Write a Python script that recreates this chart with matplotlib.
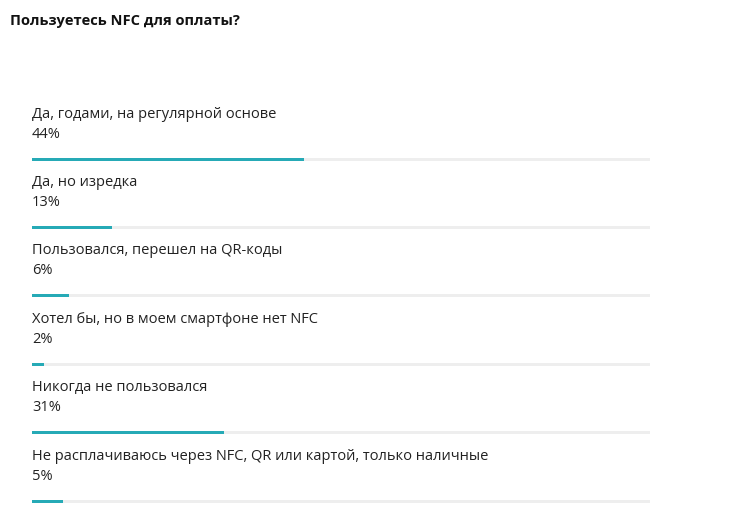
import matplotlib
matplotlib.use("Agg")
import matplotlib.pyplot as plt

title = "Пользуетесь NFC для оплаты?"
categories = [
    "Да, годами, на регулярной основе",
    "Да, но изредка",
    "Пользовался, перешел на QR-коды",
    "Хотел бы, но в моем смартфоне нет NFC",
    "Никогда не пользовался",
    "Не расплачиваюсь через NFC, QR или картой, только наличные",
]
values = [44, 13, 6, 2, 31, 5]

W, H = 730, 514
plt.rcParams['font.family'] = ['Open Sans', 'DejaVu Sans']
fig = plt.figure(figsize=(W / 100, H / 100), dpi=100)
ax = fig.add_axes([0, 0, 1, 1])

# pixel layout
x0, x1 = 32, 650
scale = (x1 - x0) / 100.0
ax.set_xlim(-x0 / scale, (W - x0) / scale)
ax.set_ylim(H, 0)
ax.axis('off')

first_bar = 159
step = 68.4
bar_h = 3
teal = '#26aab6'
track = '#eeeeee'

ys = [first_bar + i * step for i in range(len(values))]
ax.barh(ys, [100] * len(values), height=bar_h, color=track, left=0)
ax.barh(ys, values, height=bar_h, color=teal, left=0)

for y, cat, v in zip(ys, categories, values):
    ax.text(0, y - 45, cat, fontsize=10.5, color='#222222', va='center', ha='left')
    ax.text(0, y - 25, f"{v}%", fontsize=10.5, color='#222222', va='center', ha='left')

ax.text(-22 / scale, 21, title, fontsize=10.5, fontweight='bold', color='#111111',
        va='center', ha='left')

fig.savefig("out.png", dpi=100, facecolor='white')
